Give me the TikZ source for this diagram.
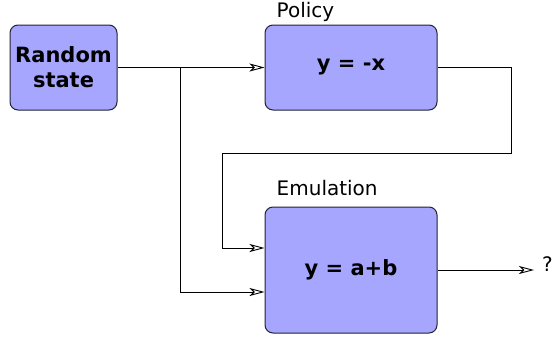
\documentclass[tikz,border=0pt]{standalone}
\usepackage{fontspec}
\setmainfont{DejaVu Sans}
\usetikzlibrary{arrows.meta,positioning,calc}
\definecolor{boxfill}{RGB}{166,166,255}
\definecolor{boxline}{RGB}{35,35,50}

\tikzset{
	block/.style={draw=boxline, fill=boxfill, rounded corners=8pt, line width=1pt,
		align=center, font=\fontsize{21}{25}\selectfont\bfseries, inner sep=0pt},
	conn/.style={line width=0.9pt, -{Stealth[open, length=15pt, width=8pt, inset=4pt]}},
	blocklabel/.style={anchor=base west, font=\fontsize{20}{24}\selectfont, inner sep=0pt}
}

\begin{document}
\begin{tikzpicture}[x=1pt, y=1pt]
		%%%%% START %%%%%
		\useasboundingbox (0,0) rectangle (552,-340);
		
		\node[block, minimum width=107pt, minimum height=85pt] (rnd) at (63.5,-67.5) {Random\\state};
		\node[block, minimum width=172pt, minimum height=85pt] (policy) at (351,-67.5) {y = -x};
		\node[block, minimum width=172pt, minimum height=126pt] (emul) at (351,-270) {y = a+b};
		
		\node[blocklabel] (policylbl) at ($(policy.north west)+(12,7)$) {Policy};
		\node[blocklabel] (emullbl) at ($(emul.north west)+(12,11)$) {Emulation};
		
		\coordinate (split) at (180,-67.5);
		\coordinate (fbright) at (511,-153);
		\coordinate (fbleft) at (222,-153);
		\coordinate (out) at (534,-270);
		
		\draw[conn] (rnd.east) -- (policy.west);
		\draw[conn] (split) |- ([yshift=-22pt]emul.west);
		\draw[conn] (policy.east) -| (fbright) -- (fbleft) |- ([yshift=22pt]emul.west);
		\draw[conn] (emul.east) -- (out);
		
		\node[anchor=base west, font=\fontsize{20}{24}\selectfont, inner sep=0pt] (result) at ($(out)+(8,-1)$) {?};
		
		%%%%% END %%%%%
\end{tikzpicture}
\end{document}
